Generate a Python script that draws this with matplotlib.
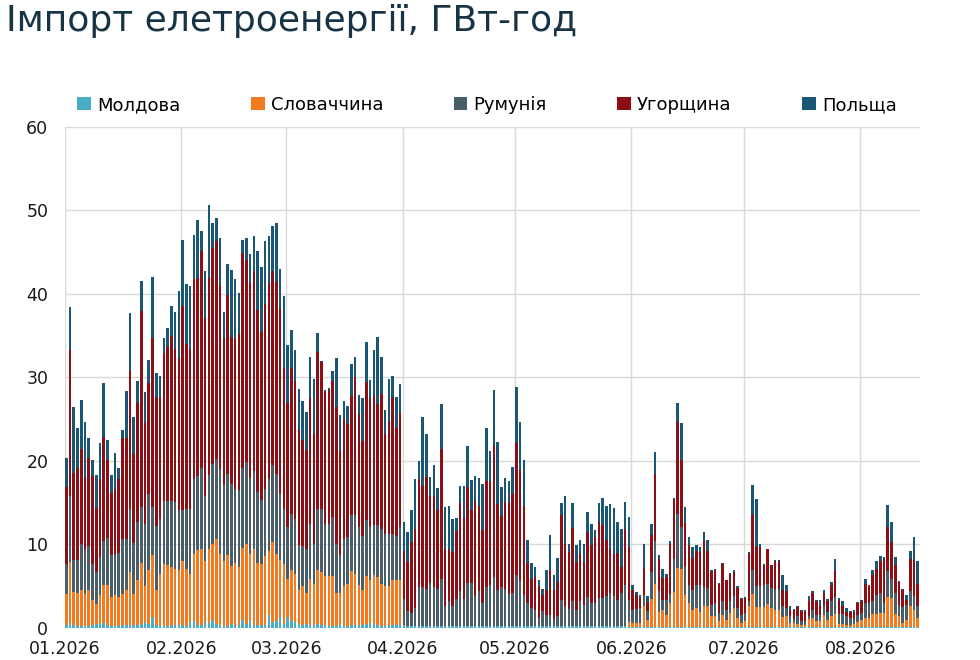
import numpy as np
import pandas as pd
import matplotlib
matplotlib.use("Agg")
import matplotlib.pyplot as plt
from matplotlib.patches import Patch

plt.rcParams['font.family'] = ['DejaVu Sans']

start_date = "2026-01-01"
countries = ["Молдова", "Словаччина", "Румунія", "Угорщина", "Польща"]
colors = ["#4bacc6", "#f47a20", "#4a5e6a", "#8b0f14", "#1a5775"]
month_labels = ["01.2026", "02.2026", "03.2026", "04.2026",
                "05.2026", "06.2026", "07.2026", "08.2026"]

# daily imports, GWh, one line per month
moldova = [
    .3, .6, .3, .2, .2, .2, .2, .3, .5, .5, .6, .4, .2, .2, .2, .3, .3, .4, .3, .4, .5, .7, .5, 1.3, .3, .3, .2, .2, .3, .3, .3,
    .3, .2, .7, .8, .3, .4, .7, .6, .9, .5, .3, .2, .2, .5, .2, .3, .9, .5, .8, .3, .3, .4, .4, 1.5, .7, .8, 1.3, .5,
    1.3, .8, .7, .5, .3, .5, .3, .3, .5, .3, .3, .2, .2, .2, .5, .2, .2, .3, .3, .3, .3, .5, .6, .5, .3, .2, .2, .3, .3, .3, .5,
    .2, .2, .2, .2, .2, .2, .2, .2, .2, .2, .2, .2, .2, .2, .2, .2, .2, .2, .2, .2, .2, .2, .2, .2, .2, .2, .2, .2, .2, .2,
    .2, .2, .2, .2, .2, .2, .2, .2, .2, .2, .2, .2, .2, .2, .2, .2, .2, .2, .2, .2, .2, .2, .2, .2, .2, .2, .2, .2, .2, .2, .1,
    .1, .1, .1, .1, .1, .1, .1, .1, .1, .1, .1, .1, .1, .1, .1, .1, .1, .1, .1, .1, .1, .1, .1, .1, .1, .1, .1, .1, .1, .1,
    .1, .1, .1, .1, .1, .1, .1, .1, .1, .1, .1, .1, .1, .1, .1, .1, .1, .1, .1, .1, .1, .1, .1, .1, .1, .1, .1, .1, .1, .1, .1,
    .1, .1, .1, .1, .1, .1, .1, .1, .1, .1, .1, .1, .1, .1, .1, .1,
]
slovakia = [
    3.8, 7.3, 4.0, 4.0, 4.3, 3.9, 4.4, 3.1, 2.4, 3.4, 4.6, 4.7, 3.5, 3.7, 3.5, 3.8, 4.3, 6.3, 3.8, 5.3, 7.3, 4.3, 6.5, 7.4, 4.3, 6.2, 7.5, 7.3, 7.0, 6.8, 6.7,
    7.7, 6.9, 5.8, 8.1, 9.0, 9.1, 7.3, 8.9, 9.2, 10.1, 8.6, 7.8, 8.5, 6.9, 7.6, 7.0, 8.7, 9.5, 8.1, 9.2, 7.5, 7.3, 8.2, 7.7, 9.6, 8.1, 6.8, 7.2,
    4.6, 6.2, 5.8, 4.1, 4.7, 3.7, 5.6, 5.0, 6.5, 6.4, 5.9, 6.0, 6.0, 4.0, 3.7, 4.8, 5.1, 6.5, 6.2, 4.9, 4.3, 5.7, 5.1, 5.8, 5.8, 5.1, 4.8, 4.7, 5.5, 5.5, 5.3,
    .1, .05, .05, .05, .05, .05, .05, .05, .05, .05, .05, .05, .05, .05, .05, .05, .05, .05, .05, .05, .05, .05, .05, .05, .05, .05, .05, .05, .05, .05,
    0, 0, 0, 0, 0, 0, 0, 0, 0, 0, 0, 0, 0, 0, 0, 0, 0, 0, 0, 0, 0, 0, 0, 0, 0, 0, 0, 0, 0, 0, .6,
    .5, .5, .5, 2.5, .9, 3.4, 5.2, 1.8, 2.0, 1.5, 2.9, 4.2, 7.1, 7.0, 3.9, 2.9, 2.1, 2.3, 1.8, 2.5, 2.5, 1.3, 1.3, .7, 1.5, .9, 1.7, 2.3, 1.1, .5,
    .7, 2.5, 4.0, 2.4, 2.4, 2.4, 2.8, 2.3, 2.1, 2.1, 1.2, 1.3, .5, .5, .4, .3, .3, 1.0, 1.1, .7, .7, 1.4, .9, 1.3, 1.6, .4, .4, .3, .3, .4, .6,
    .8, 1.1, 1.1, 1.6, 1.6, 1.7, 1.7, 3.6, 3.5, 1.6, 1.3, .5, .8, 2.5, 2.0, 1.1,
]
romania = [
    3.6, 7.9, 3.9, 4.0, 5.6, 5.3, 5.2, 4.3, 3.8, 4.6, 5.2, 5.7, 5.1, 5.0, 5.3, 6.5, 6.0, 7.5, 6.1, 7.0, 6.7, 7.4, 9.0, 5.8, 7.6, 6.5, 7.5, 7.7, 7.9, 8.0, 7.1,
    6.1, 7.2, 7.8, 9.0, 8.9, 9.7, 7.8, 8.8, 9.5, 9.6, 10.2, 9.1, 9.7, 9.8, 8.9, 9.2, 9.6, 9.9, 9.1, 9.3, 8.5, 7.6, 8.1, 8.7, 9.2, 9.5, 7.9, 6.5,
    6.2, 6.6, 6.6, 5.3, 4.8, 5.3, 6.5, 4.7, 7.3, 7.6, 6.2, 6.2, 7.1, 5.9, 4.6, 5.7, 5.6, 6.7, 7.0, 6.9, 6.4, 6.7, 6.4, 6.0, 6.2, 6.6, 6.2, 6.2, 5.4, 5.2, 6.3,
    3.2, 1.8, 1.5, 2.2, 4.6, 4.6, 4.4, 5.1, 4.6, 4.4, 5.6, 2.4, 3.0, 2.4, 3.2, 4.2, 3.2, 5.1, 5.1, 3.6, 4.2, 2.8, 4.6, 4.9, 5.9, 4.3, 4.6, 4.4, 3.8, 4.0,
    6.2, 5.4, 3.8, 2.8, 2.2, 2.0, 1.0, 1.8, 1.3, 1.4, 0.9, 1.2, 3.1, 2.4, 2.1, 3.0, 1.9, 3.0, 2.6, 3.5, 2.8, 2.8, 3.4, 3.4, 3.6, 4.0, 3.6, 3.2, 4.0, 4.9, 2.6,
    1.6, 1.7, 1.8, 1.4, 1.0, 3.2, 5.1, 2.5, 1.2, 1.8, 1.1, 4.0, 6.5, 5.0, 3.3, 2.1, 2.4, 2.8, 3.2, 2.3, 2.2, 1.3, 1.6, 1.0, 1.6, 1.2, 1.4, 1.4, 1.2, 1.0,
    1.0, 0.6, 2.9, 2.5, 2.5, 2.6, 2.4, 2.4, 2.5, 2.5, 1.3, 1.0, 0.8, 0.5, 0.9, 0.4, 0.4, 0.3, 1.0, 0.8, 0.8, 1.1, 0.9, 1.8, 2.0, 1.2, 1.2, 1.0, 0.8, 0.6, 0.9,
    0.9, 1.8, 1.8, 1.5, 2.3, 2.4, 1.2, 3.1, 2.3, 2.5, 1.4, 1.9, 1.9, 1.8, 1.7, 1.4,
]
hungary = [
    9.2, 17.5, 10.4, 11.0, 11.3, 8.6, 10.6, 10.5, 7.7, 9.3, 12.5, 9.3, 7.4, 7.7, 8.8, 12.1, 12.1, 16.7, 10.6, 14.2, 23.5, 12.1, 13.3, 20.2, 15.5, 14.5, 17.7, 18.4, 19.8, 18.3, 18.2,
    24.5, 19.7, 19.1, 23.9, 23.7, 25.9, 21.3, 23.6, 25.9, 26.1, 22.0, 17.6, 21.5, 17.6, 17.9, 18.7, 25.7, 24.2, 23.3, 24.0, 21.8, 20.2, 22.1, 23.4, 23.3, 23.0, 22.2, 16.9,
    14.9, 17.5, 16.5, 13.8, 12.7, 11.8, 15.1, 13.2, 18.7, 17.5, 15.9, 16.1, 16.3, 16.4, 12.4, 14.3, 13.5, 14.3, 16.6, 13.5, 11.4, 16.6, 15.4, 15.6, 14.5, 16.1, 12.0, 13.5, 16.5, 13.0, 13.6,
    5.7, 5.9, 8.6, 9.4, 13.0, 12.1, 13.4, 10.5, 11.0, 9.5, 15.6, 6.8, 6.2, 6.5, 8.2, 10.5, 9.7, 11.5, 8.8, 11.3, 10.1, 8.7, 12.8, 12.4, 15.8, 10.3, 8.6, 10.4, 10.9, 11.8,
    15.7, 13.3, 10.6, 4.8, 3.5, 3.9, 3.8, 1.9, 3.0, 5.3, 3.5, 4.1, 10.2, 7.4, 6.8, 8.8, 5.8, 5.7, 5.1, 7.8, 6.9, 7.9, 9.1, 8.7, 6.7, 5.3, 5.1, 5.6, 3.1, 6.8, 6.4,
    2.4, 1.6, 1.2, 3.2, 1.1, 4.4, 8.0, 3.9, 2.7, 2.7, 6.0, 7.1, 11.0, 8.0, 5.3, 4.8, 3.8, 4.0, 4.0, 5.5, 4.4, 4.0, 4.0, 3.5, 4.5, 3.5, 3.3, 2.9, 2.4, 1.9,
    1.8, 5.8, 6.7, 4.8, 4.7, 2.5, 4.1, 2.7, 3.3, 3.3, 2.0, 2.0, 0.8, 1.1, 1.1, 1.2, 1.2, 1.8, 2.0, 1.6, 1.0, 1.6, 1.3, 1.9, 3.2, 1.6, 0.9, 0.5, 0.7, 0.7, 1.4,
    1.4, 2.3, 2.0, 3.1, 3.1, 3.8, 5.3, 5.3, 4.4, 3.3, 2.7, 2.1, 0.6, 3.9, 4.4, 2.7,
]
poland = [
    3.5, 5.1, 7.9, 4.7, 5.9, 6.7, 2.3, 1.9, 3.9, 4.4, 6.4, 2.4, 2.1, 4.4, 1.4, 1.0, 5.7, 6.8, 4.5, 2.7, 3.5, 3.8, 2.8, 7.3, 2.8, 2.7, 1.8, 2.3, 3.6, 4.5, 8.0,
    7.9, 7.2, 7.6, 5.3, 7.0, 2.4, 5.7, 8.7, 3.0, 2.8, 5.6, 3.2, 3.7, 8.1, 7.2, 4.9, 1.6, 2.6, 3.5, 4.1, 7.0, 7.7, 7.5, 5.6, 5.3, 7.1, 4.8, 8.7,
    6.9, 4.6, 3.7, 4.9, 4.7, 4.6, 4.9, 6.6, 2.3, 0.2, 0.2, 0.2, 1.2, 5.8, 4.3, 2.2, 2.2, 3.8, 2.3, 2.3, 5.1, 4.8, 2.2, 5.4, 8.0, 4.4, 2.9, 5.1, 2.5, 3.7, 3.5,
    3.5, 3.5, 3.8, 6.0, 2.1, 8.3, 5.2, 2.2, 3.7, 2.6, 5.4, 5.0, 5.1, 3.9, 1.5, 2.0, 3.8, 4.9, 3.6, 3.1, 3.4, 5.5, 6.3, 3.7, 6.6, 7.4, 3.4, 2.9, 2.6, 3.2,
    6.8, 5.8, 5.5, 2.7, 1.9, 1.2, 0.8, 0.8, 2.4, 4.2, 1.8, 2.9, 1.5, 5.8, 1.0, 3.0, 2.0, 1.6, 2.2, 2.4, 2.5, 0.8, 2.3, 3.3, 4.1, 5.4, 5.5, 3.7, 4.6, 3.2, 3.6,
    0.5, 0.4, 0.4, 2.8, 0.7, 1.3, 2.7, 0.4, 1.1, 0.4, 0.3, 0.2, 2.2, 4.5, 1.9, 1.0, 1.3, 0.7, 0.6, 1.1, 1.3, 0.2, 0.1, 0.1, 0.1, 0.1, 0.1, 0.2, 0.2, 0.1,
    0.1, 0.1, 3.4, 5.7, 0.4, 0.1, 0.1, 0.1, 0.1, 0.1, 1.8, 0.8, 0.4, 0.1, 0.1, 0.1, 0.1, 0.6, 0.2, 0.2, 0.8, 0.4, 0.3, 0.4, 1.4, 0.3, 0.6, 0.5, 0.1, 0.4, 0.1,
    0.1, 0.6, 0.2, 0.6, 0.9, 0.6, 0.2, 2.6, 2.4, 1.0, 0.1, 0.1, 0.6, 0.9, 2.7, 2.7,
]

series = [moldova, slovakia, romania, hungary, poland]
dates = pd.date_range(start_date, periods=len(moldova), freq="D")
day = np.arange(len(dates))
month_starts = [i for i, d in enumerate(dates) if d.day == 1]

fig = plt.figure(figsize=(9.8, 6.6), dpi=100)
ax = fig.add_axes([0.0663, 0.0485, 0.8727, 0.7591])

bottom = np.zeros(len(day))
for vals, col in zip(series, colors):
    vals = np.array(vals, dtype=float)
    ax.bar(day, vals, width=0.68, bottom=bottom, color=col, align="edge", linewidth=0)
    bottom += vals

ax.set_xlim(0, len(day))
ax.set_ylim(0, 60)
ax.set_yticks(range(0, 61, 10))
ax.set_xticks(month_starts)
ax.set_xticklabels(month_labels)
ax.grid(True, color="#d9d9d9", linewidth=1)
ax.set_axisbelow(True)
for s in ax.spines.values():
    s.set_visible(False)
ax.tick_params(length=0, labelsize=12.5, labelcolor="#1a1a1a")
ax.tick_params(axis="y", pad=12)
ax.tick_params(axis="x", pad=9)

fig.text(0.006, 0.968, "Імпорт елетроенергії, ГВт-год", fontsize=26,
         color="#173447", va="center", ha="left")

handles = [Patch(facecolor=c, edgecolor="none") for c in colors]
fig.legend(handles, countries, loc="center", bbox_to_anchor=(0.497, 0.841), ncol=5,
           frameon=False, fontsize=13, handlelength=0.75, handleheight=0.75,
           handletextpad=0.35, columnspacing=3.9)

fig.savefig("out.png", dpi=100)
